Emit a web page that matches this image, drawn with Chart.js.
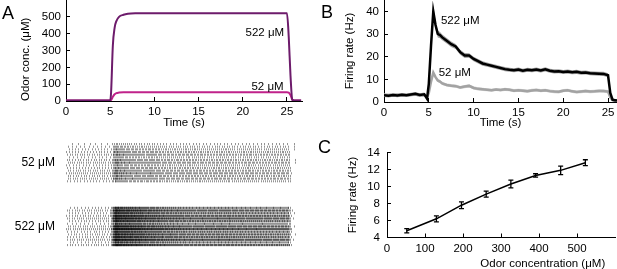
<!DOCTYPE html>
<html>
<head>
<meta charset="utf-8">
<script src="https://cdn.jsdelivr.net/npm/chart.js@4.4.1/dist/chart.umd.min.js"></script>
<style>
  body { margin: 0; background: #fff; width: 617px; height: 269px; overflow: hidden; position: relative; }
  canvas { position: absolute; }
  .letter { position: absolute; font-family: "Liberation Sans", Arial, sans-serif; font-size: 18px; line-height: 18px; color: #000; }
</style>
</head>
<body>
<canvas id="cA" width="310" height="130" style="left:0;top:0"></canvas>
<canvas id="cR" width="310" height="139" style="left:0;top:130px"></canvas>
<canvas id="cB" width="307" height="130" style="left:310px;top:0"></canvas>
<canvas id="cC" width="307" height="139" style="left:310px;top:130px"></canvas>
<div class="letter" style="left:2px;top:4px">A</div>
<div class="letter" style="left:321px;top:3px">B</div>
<div class="letter" style="left:318px;top:138px">C</div>
<script>
// --- Panel A : concentration de l'odeur
const tA = [0, 1, 2, 3, 4, 5, 5.1, 5.3, 5.5, 5.7, 6, 6.5, 7, 8, 10, 15, 20, 25, 25.2, 25.4, 25.6, 25.8, 26, 26.6];
const conc522 = [3, 3, 3, 3, 3, 3, 50, 330, 435, 475, 500, 512, 518, 521, 522, 522, 522, 521, 380, 150, 8, 3, 3, 3];
const conc52 = [3, 3, 3, 3, 3, 3, 5, 25, 40, 47, 50, 52, 52, 52, 52, 52, 52, 52, 50, 35, 8, 3, 3, 3];

// --- Panel B : fréquence de décharge (moyenne +/- SEM)
const tB = [0, 0.5, 1, 1.5, 2, 2.5, 3, 3.5, 4, 4.5, 4.8, 5, 5.25, 5.5, 5.75, 6, 6.25, 6.5, 7, 7.5, 8, 8.5, 9, 9.5,
  10, 10.5, 11, 11.5, 12, 12.5, 13, 13.5, 14, 14.5, 15, 15.5, 16, 16.5, 17, 17.5, 18, 18.5, 19, 19.5,
  20, 20.5, 21, 21.5, 22, 22.5, 23, 23.5, 24, 24.5, 25, 25.25, 25.5, 25.75, 26];
const rate522 = [3.0, 2.8, 3.1, 2.9, 3.2, 3.0, 3.3, 3.6, 3.1, 3.4, 1.5, 8, 25, 40, 34, 30, 29.5, 28.5, 27, 25.5, 24.5, 22, 20.5, 20.5,
  19, 18, 17, 16.5, 16, 15.5, 15, 14.5, 14.2, 14, 14.3, 13.8, 14.2, 14, 14.3, 13.9, 14.4, 13.8, 13.5, 13.6,
  13.2, 13.4, 13.1, 13.3, 12.9, 13.0, 12.7, 12.6, 12.5, 12.4, 11.8, 4, 1, 0.8, 0.6];
const sem522 = [0.8, 0.8, 0.8, 0.8, 0.8, 0.8, 0.8, 0.8, 0.8, 0.8, 0.8, 1.2, 2, 2.5, 2, 1.5, 1.4, 1.3, 1.2, 1.2, 1.1, 1.1, 1.1, 1.0,
  1.0, 1.0, 1.0, 0.9, 0.9, 0.9, 0.9, 0.9, 0.9, 0.9, 0.9, 0.9, 0.9, 0.9, 0.9, 0.9, 0.9, 0.9, 0.9, 0.9,
  0.9, 0.9, 0.9, 0.9, 0.9, 0.9, 0.9, 0.9, 0.9, 0.9, 0.9, 0.8, 0.5, 0.5, 0.5];
const rate52 = [3.0, 2.9, 3.0, 3.1, 3.0, 2.9, 3.2, 3.3, 3.0, 3.1, 2.0, 4, 9, 13, 11, 9.5, 9, 8.2, 7.5, 7.2, 7, 6.4, 6.8, 7.1,
  6.2, 5.8, 5.6, 5.4, 5.2, 5.5, 5.3, 5.6, 5.4, 5.0, 5.2, 5.0, 4.8, 5.1, 5.3, 5.0, 5.2, 4.8, 4.6, 4.5,
  5.0, 5.2, 4.7, 4.4, 4.6, 4.8, 4.6, 4.7, 4.9, 4.8, 4.6, 2.0, 0.8, 0.6, 0.5];
const sem52 = tB.map(() => 0.7);

// --- Panel C : fréquence selon la concentration
const concC = [52, 130, 196, 261, 326, 391, 457, 522];
const rateC = [4.8, 6.2, 7.8, 9.1, 10.3, 11.3, 11.9, 12.8];
const errC = [0.25, 0.35, 0.4, 0.35, 0.45, 0.2, 0.5, 0.35];

// --- Raster : gain relatif de chaque essai (15 essais par bloc)
const gain52 = [0.5, 0.7, 0.9, 1.0, 1.2, 0.8, 1.1, 1.3, 0.9, 1.0, 1.2, 1.4, 1.1, 1.3, 0.9];
const gain522 = [0.8, 1.2, 0.9, 1.1, 1.3, 1.0, 0.7, 1.2, 1.4, 0.9, 1.1, 1.0, 1.3, 0.8, 1.1];
const rasterLabels = ['52 μM', '522 μM'];

const FAMILY = "'Liberation Sans', Arial, sans-serif";
Chart.defaults.font.family = FAMILY;
Chart.defaults.font.size = 11.5;
Chart.defaults.color = '#000';
Chart.defaults.animation = false;

const xy = (xs, ys) => xs.map((x, i) => ({ x: x, y: ys[i] }));

// texte positionné en coordonnées de données
const notesPlugin = {
  id: 'notes',
  afterDatasetsDraw(chart, args, opts) {
    const ctx = chart.ctx;
    ctx.save();
    ctx.fillStyle = '#000';
    ctx.textAlign = 'center';
    ctx.textBaseline = 'middle';
    ctx.font = (opts.size || 11.5) + 'px ' + FAMILY;
    (opts.items || []).forEach(it => {
      ctx.fillText(it.text, chart.scales.x.getPixelForValue(it.x), chart.scales.y.getPixelForValue(it.y));
    });
    ctx.restore();
  }
};

function baseAxis(extra) {
  return Object.assign({
    type: 'linear',
    grid: { drawOnChartArea: false, tickLength: -4, color: '#000' },
    border: { color: '#000', width: 1 },
  }, extra);
}

function common(padding, notes) {
  return {
    responsive: false,
    layout: { padding: padding },
    plugins: { legend: { display: false }, tooltip: { enabled: false }, notes: { items: notes } },
  };
}

// Panel A
const optA = common({ left: 0, right: 8, top: 0, bottom: 0 }, [
  { text: '522 μM', x: 22.5, y: 405 },
  { text: '52 μM', x: 22.8, y: 83 },
]);
optA.scales = {
  x: baseAxis({
    min: 0, max: 26.7,
    afterFit: s => { s.height = 29; s.paddingLeft = 0; s.paddingRight = 0; },
    ticks: { stepSize: 5, includeBounds: false, padding: 8 },
    title: { display: true, text: 'Time (s)', padding: { top: 0, bottom: 0 } },
  }),
  y: baseAxis({
    min: 0, max: 600,
    afterFit: s => { s.width = 66; s.paddingTop = 0; s.paddingBottom = 0; },
    afterBuildTicks: s => { s.ticks = s.ticks.filter(t => t.value <= 500); },
    ticks: { stepSize: 100, padding: 9 },
    title: { display: true, text: 'Odor conc. (μM)', align: 'start', padding: { top: 19, bottom: 0 } },
  }),
};
new Chart(document.getElementById('cA'), {
  type: 'line',
  data: {
    datasets: [
      { data: xy(tA, conc522), borderColor: '#6d1b6b', borderWidth: 2, pointRadius: 0, cubicInterpolationMode: 'monotone' },
      { data: xy(tA, conc52), borderColor: '#c0228a', borderWidth: 2, pointRadius: 0, cubicInterpolationMode: 'monotone' },
    ],
  },
  options: optA,
  plugins: [notesPlugin],
});

// Panel B
const optB = common({ left: 0, right: 0, top: 0, bottom: 0 }, [
  { text: '522 μM', x: 8.5, y: 35.6 },
  { text: '52 μM', x: 7.9, y: 12.8 },
]);
optB.scales = {
  x: baseAxis({
    min: 0, max: 26,
    afterFit: s => { s.height = 28; s.paddingLeft = 0; s.paddingRight = 0; },
    ticks: { stepSize: 5, includeBounds: false, padding: 8 },
    title: { display: true, text: 'Time (s)', padding: { top: 0, bottom: 0 } },
  }),
  y: baseAxis({
    min: 0, max: 45,
    afterFit: s => { s.width = 74; s.paddingTop = 0; s.paddingBottom = 0; },
    ticks: { stepSize: 10, includeBounds: false, padding: 9 },
    title: { display: true, text: 'Firing rate (Hz)', padding: { top: 33, bottom: 0 } },
  }),
};
const bandUp = (m, e) => m.map((v, i) => v + e[i]);
const bandLo = (m, e) => m.map((v, i) => Math.max(0, v - e[i]));
new Chart(document.getElementById('cB'), {
  type: 'line',
  data: {
    datasets: [
      { data: xy(tB, rate522), borderColor: '#000', borderWidth: 2.5, pointRadius: 0 },
      { data: xy(tB, bandUp(rate522, sem522)), borderWidth: 0, pointRadius: 0, fill: '+1', backgroundColor: '#a0a0a0' },
      { data: xy(tB, bandLo(rate522, sem522)), borderWidth: 0, pointRadius: 0 },
      { data: xy(tB, rate52), borderColor: '#a3a3a3', borderWidth: 2.5, pointRadius: 0 },
      { data: xy(tB, bandUp(rate52, sem52)), borderWidth: 0, pointRadius: 0, fill: '+1', backgroundColor: '#d2d2d2' },
      { data: xy(tB, bandLo(rate52, sem52)), borderWidth: 0, pointRadius: 0 },
    ],
  },
  options: optB,
  plugins: [notesPlugin],
});

// Panel C
const errorBars = {
  id: 'errorBars',
  afterDatasetsDraw(chart) {
    const { ctx, scales: { x, y } } = chart;
    ctx.save();
    ctx.strokeStyle = '#000';
    ctx.lineWidth = 1.3;
    concC.forEach((c, i) => {
      const px = x.getPixelForValue(c);
      const top = y.getPixelForValue(rateC[i] + errC[i]);
      const bot = y.getPixelForValue(rateC[i] - errC[i]);
      ctx.beginPath();
      ctx.moveTo(px, top); ctx.lineTo(px, bot);
      ctx.moveTo(px - 2.5, top); ctx.lineTo(px + 2.5, top);
      ctx.moveTo(px - 2.5, bot); ctx.lineTo(px + 2.5, bot);
      ctx.stroke();
    });
    ctx.restore();
  }
};
const optC = common({ left: 0, right: 2, top: 22.5, bottom: 0 }, [
  { text: 'Odor concentration (μM)', x: 410, y: 0.85 },
]);
optC.scales = {
  x: baseAxis({
    min: 0, max: 600,
    afterFit: s => { s.height = 31.5; s.paddingLeft = 0; s.paddingRight = 0; },
    afterBuildTicks: s => { s.ticks = s.ticks.filter(t => t.value <= 500); },
    ticks: { stepSize: 100, padding: 8 },
  }),
  y: baseAxis({
    min: 4, max: 14,
    afterFit: s => { s.width = 77; s.paddingTop = 0; s.paddingBottom = 0; },
    ticks: { stepSize: 2, padding: 11 },
    title: { display: true, text: 'Firing rate (Hz)', padding: { top: 36, bottom: 0 } },
  }),
};
new Chart(document.getElementById('cC'), {
  type: 'line',
  data: { datasets: [{ data: xy(concC, rateC), borderColor: '#000', borderWidth: 1.5, pointRadius: 0 }] },
  options: optC,
  plugins: [notesPlugin, errorBars],
});

// Raster : chaque essai est dessiné à partir de la fréquence du panneau B
const blocks = [
  { rate: rate52, gain: gain52, offset: 0 },
  { rate: rate522, gain: gain522, offset: 24 },
];
const rasterPlugin = {
  id: 'raster',
  afterDatasetsDraw(chart) {
    const { ctx, scales: { x, y } } = chart;
    ctx.save();
    ctx.strokeStyle = 'rgba(0,0,0,0.42)';
    ctx.lineWidth = 1;
    blocks.forEach(b => {
      b.gain.forEach((g, r) => {
        const y0 = y.getPixelForValue(b.offset + r);
        const y1 = y.getPixelForValue(b.offset + r + 0.8);
        let acc = (r * 0.618) % 1;
        ctx.beginPath();
        for (let i = 0; i < tB.length - 1; i++) {
          const rate = b.rate[i] * g;
          const t1 = tB[i + 1];
          acc += rate * (t1 - tB[i]);
          while (acc >= 1) {
            const ts = t1 - (acc - 1) / rate;
            const px = Math.round(x.getPixelForValue(ts)) + 0.5;
            ctx.moveTo(px, y0); ctx.lineTo(px, y1);
            acc -= 1;
          }
        }
        ctx.stroke();
      });
    });
    ctx.restore();
  }
};
new Chart(document.getElementById('cR'), {
  type: 'scatter',
  data: { datasets: [{ data: [] }] },
  options: {
    responsive: false,
    layout: { padding: { left: 0, right: 8, top: 13, bottom: 21 } },
    plugins: { legend: { display: false }, tooltip: { enabled: false } },
    scales: {
      x: { type: 'linear', display: false, min: 0, max: 26.7 },
      y: {
        type: 'linear', min: 0, max: 39.5, reverse: true,
        afterFit: s => { s.width = 66; s.paddingTop = 0; s.paddingBottom = 0; },
        afterBuildTicks: s => { s.ticks = [{ value: 7.5 }, { value: 31.5 }]; },
        ticks: { padding: 3, font: { size: 12 }, callback: v => (v < 20 ? rasterLabels[0] : rasterLabels[1]) },
        grid: { display: false },
        border: { display: false },
      },
    },
  },
  plugins: [rasterPlugin],
});
</script>
</body>
</html>
